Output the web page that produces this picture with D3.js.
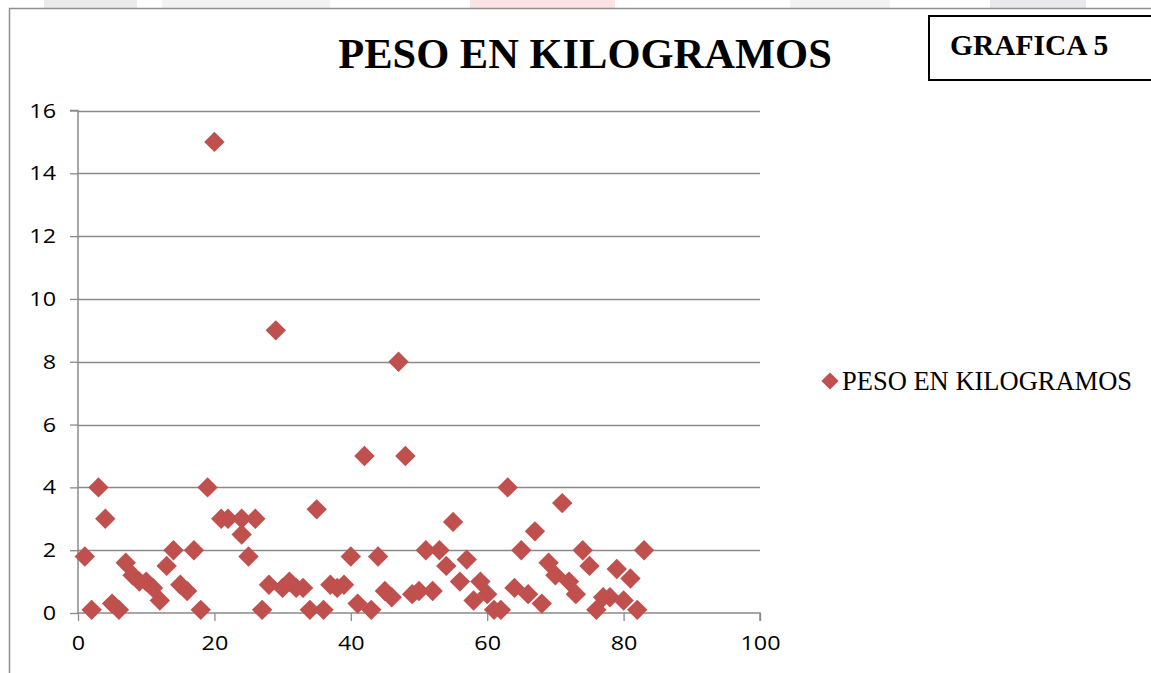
<!DOCTYPE html>
<html>
<head>
<meta charset="utf-8">
<script src="https://cdn.jsdelivr.net/npm/d3@7"></script>
<style>
  html, body { margin: 0; padding: 0; background: #ffffff; }
  svg { display: block; }
</style>
</head>
<body>
<svg id="chart" width="1151" height="673"></svg>
<script>
// ---- Data ----
const seriesName = "PESO EN KILOGRAMOS";
const chartTitle = "PESO EN KILOGRAMOS";
const badgeText = "GRAFICA 5";
const xValues = [1,2,3,4,5,6,7,8,9,10,11,12,13,14,15,16,17,18,19,20,21,22,24,24,25,26,27,28,29,30,31,32,33,34,35,36,37,38,39,40,41,42,43,44,45,46,47,48,49,50,51,52,53,54,55,56,57,58,59,60,61,62,63,64,65,66,67,68,69,70,71,72,73,74,75,76,77,78,79,80,81,82,83];
const yValues = [1.8,0.1,4,3,0.3,0.1,1.6,1.2,1.0,1.0,0.8,0.4,1.5,2,0.9,0.7,2,0.1,4,15,3,3,3,2.5,1.8,3,0.1,0.9,9,0.8,1.0,0.8,0.8,0.1,3.3,0.1,0.9,0.8,0.9,1.8,0.3,5,0.1,1.8,0.7,0.5,8,5,0.6,0.7,2,0.7,2,1.5,2.9,1.0,1.7,0.4,1.0,0.6,0.1,0.1,4,0.8,2,0.6,2.6,0.3,1.6,1.2,3.5,1.0,0.6,2,1.5,0.1,0.5,0.5,1.4,0.4,1.1,0.1,2];
const xTicks = [0,20,40,60,80,100];
const yTicks = [0,2,4,6,8,10,12,14,16];

const svg = d3.select("#chart");
const red = "#C0504D";
const gridColor = "#8a8a8a";
const labelFont = "'Open Sans', sans-serif";
const stretch = 1.14;

// faint page fragments above the chart frame
const topBits = [
  {x0: 44, x1: 137, c: "#ebebeb"},
  {x0: 162, x1: 330, c: "#f3f3f3"},
  {x0: 470, x1: 615, c: "#fbe3e3"},
  {x0: 790, x1: 890, c: "#f2f2f2"},
  {x0: 990, x1: 1086, c: "#e9e9ed"}
];
svg.selectAll("rect.bit").data(topBits).enter().append("rect")
  .attr("x", d => d.x0).attr("y", 0).attr("width", d => d.x1 - d.x0).attr("height", 8)
  .attr("fill", d => d.c);

// chart frame
svg.append("path").attr("d", "M9.5,680 L9.5,8.5 L1160,8.5")
  .attr("fill", "none").attr("stroke", "#8f8f8f").attr("stroke-width", 1.5);

// scales
const x = d3.scaleLinear().domain([0, 100]).range([78, 760]);
const y = d3.scaleLinear().domain([0, 16]).range([613, 110.5]);

// gridlines
svg.append("g").selectAll("line").data(yTicks.filter(v => v > 0)).enter().append("line")
  .attr("x1", x(0)).attr("x2", x(100))
  .attr("y1", d => Math.round(y(d)) + 0.5).attr("y2", d => Math.round(y(d)) + 0.5)
  .attr("stroke", gridColor).attr("stroke-width", 1.3);

// y axis
const yAxis = d3.axisLeft(y).tickValues(yTicks).tickSize(8).tickPadding(14).tickFormat(d3.format("d"));
const gy = svg.append("g").attr("transform", `translate(${x(0)},0)`).call(yAxis);
gy.select(".domain").attr("stroke", gridColor).attr("stroke-width", 1.5).attr("d", `M-8,${y(16)}H0V${y(0)}`);
gy.selectAll(".tick line").attr("stroke", gridColor).attr("stroke-width", 1.3);
gy.selectAll(".tick text").attr("fill", "#000").style("font-family", labelFont).style("font-size", "20.5px")
  .attr("x", -22 / stretch).attr("transform", `scale(${stretch},1)`);

// x axis
const xAxis = d3.axisBottom(x).tickValues(xTicks).tickSize(8).tickPadding(14).tickFormat(d3.format("d"));
const gx = svg.append("g").attr("transform", `translate(0,${y(0)})`).call(xAxis);
gx.select(".domain").attr("stroke", gridColor).attr("stroke-width", 1.5).attr("d", `M${x(0)},0H${x(100)}V8`);
gx.selectAll(".tick line").attr("stroke", gridColor).attr("stroke-width", 1.3);
gx.selectAll(".tick text").attr("fill", "#000").style("font-family", labelFont).style("font-size", "20.5px")
  .attr("transform", `scale(${stretch},1)`);

// points
const points = xValues.map((v, i) => ({x: v, y: yValues[i]}));
const diamond = r => `M0,${-r}L${r},0L0,${r}L${-r},0Z`;
svg.append("g").selectAll("path").data(points).enter().append("path")
  .attr("d", diamond(10.2))
  .attr("transform", d => `translate(${x(d.x)},${y(d.y)})`)
  .attr("fill", red);

// title
svg.append("text").attr("x", 585).attr("y", 68).attr("text-anchor", "middle")
  .style("font-family", "'Liberation Serif', 'Times New Roman', serif")
  .style("font-weight", "bold").style("font-size", "42.5px").attr("fill", "#000")
  .text(chartTitle);

// GRAFICA 5 box
svg.append("rect").attr("x", 929).attr("y", 16).attr("width", 240).attr("height", 64)
  .attr("fill", "#fff").attr("stroke", "#000").attr("stroke-width", 2);
svg.append("text").attr("x", 950).attr("y", 55)
  .style("font-family", "'Liberation Serif', 'Times New Roman', serif")
  .style("font-weight", "bold").style("font-size", "29.5px").attr("fill", "#000")
  .text(badgeText);

// legend
const lg = svg.append("g").attr("transform", "translate(830,381)");
lg.append("path").attr("d", diamond(8.6)).attr("fill", red);
lg.append("text").attr("x", 12).attr("y", 9)
  .style("font-family", "'Liberation Serif', 'Times New Roman', serif")
  .style("font-size", "26.5px").attr("fill", "#000")
  .text(seriesName);
</script>
</body>
</html>
